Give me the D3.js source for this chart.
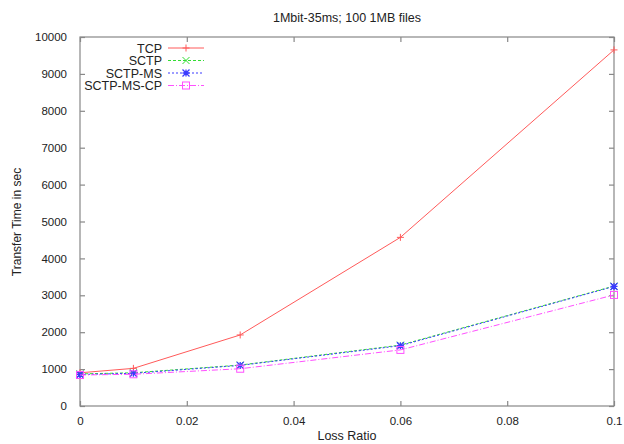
<!DOCTYPE html>
<html><head><meta charset="utf-8">
<script src="https://cdn.jsdelivr.net/npm/d3@7"></script>
<style>body{margin:0;background:#fff;}svg{display:block;font-family:"Liberation Sans",Arial,sans-serif;}</style>
</head><body><svg id="c" width="624" height="444"></svg>
<script>
const lossRatios = [0, 0.01, 0.03, 0.06, 0.1];
const tcp = [900, 1020, 1925, 4570, 9650];
const sctp = [870, 900, 1110, 1650, 3250];
const sctpMs = [855, 885, 1100, 1635, 3240];
const sctpMsCp = [840, 860, 1010, 1520, 3010];
const xTicks = [0, 0.02, 0.04, 0.06, 0.08, 0.1];
const yTicks = [0,1000,2000,3000,4000,5000,6000,7000,8000,9000,10000];
const seriesNames = ["TCP","SCTP","SCTP-MS","SCTP-MS-CP"];

const series = [
  {name: seriesNames[0], vals: tcp, color:"#ff5a5a", dash:null, mark:"plus"},
  {name: seriesNames[1], vals: sctp, color:"#33dd33", dash:"3,2", mark:"cross"},
  {name: seriesNames[2], vals: sctpMs, color:"#3a3aff", dash:"2,2", mark:"star"},
  {name: seriesNames[3], vals: sctpMsCp, color:"#ff50ff", dash:"6,2,1,2", mark:"square"}
];

const svg = d3.select("#c");
const L=80, R=614, T=37, B=406;
const x = d3.scaleLinear().domain([0,0.1]).range([L,R]);
const y = d3.scaleLinear().domain([0,10000]).range([B,T]);
const axisCol="#888", textCol="#222";

svg.append("rect").attr("x",L).attr("y",T).attr("width",R-L).attr("height",B-T)
  .attr("fill","none").attr("stroke",axisCol).attr("stroke-width",1.2);

const fmtX = d => d===0?"0":(d===0.1?"0.1":d3.format(".2f")(d));
const gx = svg.append("g").attr("transform",`translate(0,${B})`)
  .call(d3.axisBottom(x).tickValues(xTicks).tickFormat(fmtX).tickSizeInner(-5).tickSizeOuter(0).tickPadding(11));
const gxt = svg.append("g").attr("transform",`translate(0,${T})`)
  .call(d3.axisTop(x).tickValues(xTicks).tickFormat("").tickSizeInner(-5).tickSizeOuter(0));
const gy = svg.append("g").attr("transform",`translate(${L},0)`)
  .call(d3.axisLeft(y).tickValues(yTicks).tickFormat(d3.format("d")).tickSizeInner(-5).tickSizeOuter(0).tickPadding(13));
const gyr = svg.append("g").attr("transform",`translate(${R},0)`)
  .call(d3.axisRight(y).tickValues(yTicks).tickFormat("").tickSizeInner(-5).tickSizeOuter(0));
[gx,gxt,gy,gyr].forEach(g=>{
  g.select(".domain").remove();
  g.selectAll(".tick line").attr("stroke",axisCol).attr("stroke-width",1.2);
  g.selectAll("text").attr("fill",textCol).attr("font-size",11.5).attr("font-family","Liberation Sans, Arial, sans-serif");
});

svg.append("text").attr("x",347).attr("y",22).attr("text-anchor","middle").attr("font-size",12.5).attr("fill",textCol).text("1Mbit-35ms; 100 1MB files");
svg.append("text").attr("x",347).attr("y",440).attr("text-anchor","middle").attr("font-size",12.5).attr("fill",textCol).text("Loss Ratio");
svg.append("text").attr("transform","translate(21,222) rotate(-90)").attr("text-anchor","middle").attr("font-size",12).attr("fill",textCol).text("Transfer Time in sec");

function drawMark(g, type, cx, cy, color){
  const s=3.5;
  if(type==="plus"){
    g.append("path").attr("d",`M${cx-s},${cy}H${cx+s}M${cx},${cy-s}V${cy+s}`).attr("stroke",color).attr("stroke-width",1);
  } else if(type==="cross"){
    g.append("path").attr("d",`M${cx-s},${cy-s}L${cx+s},${cy+s}M${cx-s},${cy+s}L${cx+s},${cy-s}`).attr("stroke",color).attr("stroke-width",1);
  } else if(type==="star"){
    g.append("path").attr("d",`M${cx-s},${cy}H${cx+s}M${cx},${cy-s}V${cy+s}M${cx-s},${cy-s}L${cx+s},${cy+s}M${cx-s},${cy+s}L${cx+s},${cy-s}`).attr("stroke",color).attr("stroke-width",1.3);
  } else if(type==="square"){
    g.append("rect").attr("x",cx-s).attr("y",cy-s).attr("width",2*s).attr("height",2*s).attr("fill","none").attr("stroke",color).attr("stroke-width",1);
  }
}

const line = d3.line().x((d,i)=>x(lossRatios[i])).y(d=>y(d));
series.forEach((s,k)=>{
  const g = svg.append("g");
  g.append("path").datum(s.vals).attr("d",line).attr("fill","none").attr("stroke",s.color)
    .attr("stroke-width",1).attr("stroke-dasharray",s.dash);
  s.vals.forEach((v,i)=>drawMark(g,s.mark,x(lossRatios[i]),y(v),s.color));
  const ly = 48 + k*12.5;
  svg.append("text").attr("x",162).attr("y",ly+4.5).attr("text-anchor","end").attr("font-size",12.5).attr("fill",textCol).text(s.name);
  g.append("line").attr("x1",168).attr("x2",204).attr("y1",ly).attr("y2",ly).attr("stroke",s.color).attr("stroke-width",1).attr("stroke-dasharray",s.dash);
  drawMark(g,s.mark,186,ly,s.color);
});
</script></body></html>
